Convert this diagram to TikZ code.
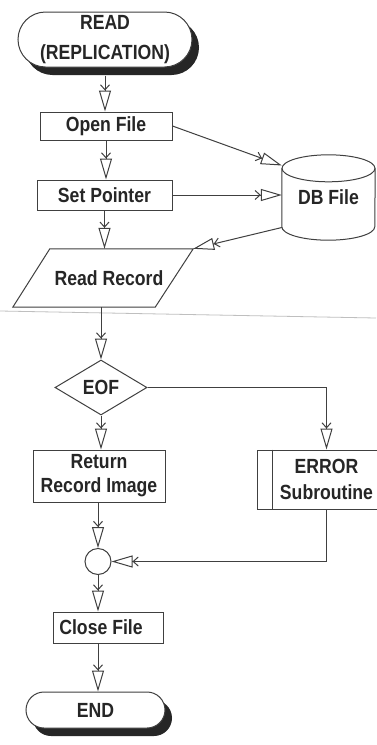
\documentclass[tikz,border=0pt]{standalone}
\usepackage{fontspec}
\setmainfont{Liberation Sans}[FakeStretch=0.86]
\usetikzlibrary{arrows.meta,shapes.geometric,shadows,calc}

\begin{document}
\begin{tikzpicture}[x=1pt,y=-1pt,
  every node/.style={font=\fontsize{20.5}{24}\selectfont\bfseries, text=black!85, inner sep=0pt},
  line/.style={draw=black!75, line width=1pt},
  flow/.style={line, -{Straight Barb[length=5pt,width=9pt] Triangle[open,length=21pt,width=12pt]}},
  procbox/.style={line, rectangle, fill=white},
  terminal/.style={line, rectangle, fill=white,
    general shadow={fill=black!85, shadow xshift=7pt, shadow yshift=-8pt}}
]
\fill[white] (0,0) rectangle (376,745);
\useasboundingbox (0,0) rectangle (376,745);

% fold of the page
\draw[black!25, line width=0.8pt] (0,311) -- (376,318);

% nodes
\node[terminal, rounded corners=27.5pt, minimum width=174pt, minimum height=55pt, align=center]
  (read) at (105,39.5) {READ\\[6pt](REPLICATION)};
\node[procbox, minimum width=132pt, minimum height=28pt] (open) at (106,126) {Open File};
\node[procbox, minimum width=135pt, minimum height=30pt] (setp) at (104.5,195) {Set Pointer};

% database cylinder
\node[minimum width=93pt, minimum height=85pt] (db) at (328.5,197.5) {DB File};
\draw[line] ([yshift=-13.5pt]db.north west) -- ([yshift=13.5pt]db.south west)
  arc[start angle=180, end angle=360, x radius=46.5pt, y radius=13.5pt]
  -- ([yshift=-13.5pt]db.north east);
\draw[line] ([yshift=-13.5pt]db.north) ellipse [x radius=46.5pt, y radius=13.5pt];

% input parallelogram
\node[minimum width=180pt, minimum height=58pt] (rr) at (103,278) {\hspace*{12pt}Read Record};
\draw[line] ([xshift=37pt]rr.north west) -- (rr.north east)
  -- ([xshift=-38pt]rr.south east) -- (rr.south west) -- cycle;

\node[line, diamond, aspect=1.7, fill=white, minimum width=92pt, minimum height=55pt]
  (eof) at (101,387.5) {EOF};

\node[procbox, minimum width=132pt, minimum height=52pt, align=center]
  (ret) at (99,476) {Return\\Record Image};
\node[procbox, minimum width=123pt, minimum height=59pt, align=center]
  (err) at (318.5,479.5) {\hspace*{16pt}ERROR\\[2pt]\hspace*{16pt}Subroutine};
\draw[line] ([xshift=16pt]err.north west) -- ([xshift=16pt]err.south west);

\node[line, circle, fill=white, minimum size=26pt] (join) at (98,561.5) {};
\node[procbox, minimum width=110pt, minimum height=31pt] (close) at (108,627.5) {Close File\hspace*{14pt}};
\node[terminal, rounded corners=18pt, minimum width=139pt, minimum height=36pt]
  (end) at (95.5,710) {END};

% connectors
\draw[flow] ([yshift=-8pt]read.south) -- (open.north -| read.south);
\draw[flow] (open.south) -- (setp.north -| open.south);
\draw[flow] (open.east) -- ([yshift=32pt]db.west);
\draw[flow] (setp.east) -- (setp.east -| db.west);
\draw[flow] ([yshift=-30pt]db.west) -- (rr.north east);
\draw[flow] (setp.south) -- (setp.south |- rr.north);
\draw[flow] (rr.south -| eof.north) -- (eof.north);
\draw[flow] (eof.east) -| ([xshift=8pt]err.north);
\draw[flow] (eof.south) -- (ret.north -| eof.south);
\draw[flow] (ret.south -| join) -- (join.north);
\draw[flow] ([xshift=8pt]err.south) |- (join.east);
\draw[flow] (join.south) -- (join.south |- close.north);
\draw[flow] (close.south -| join) -- (end.north -| join);
\end{tikzpicture}
\end{document}
